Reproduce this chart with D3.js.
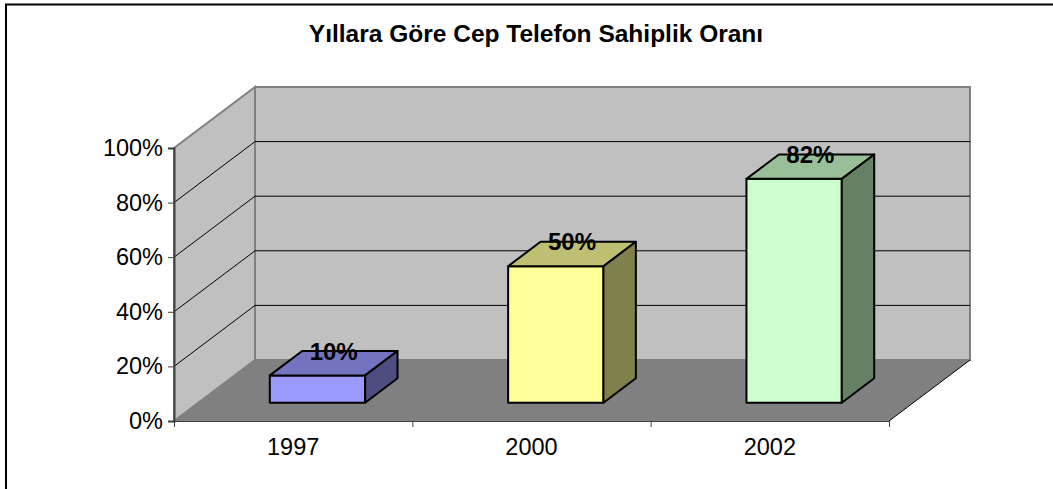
<!DOCTYPE html>
<html>
  <head>
    <meta charset="utf-8">
    <style>
      body {
        margin: 0;
        background: #fff;
        font-family: Arial, 'Liberation Sans', Helvetica, sans-serif;
      }
      .axis text {
        font-size: 23.5px;
        fill: #000;
        font-family: Arial, 'Liberation Sans', sans-serif;
      }
      .axis path, .axis line {
        stroke: #404040;
      }
      .title {
        font-size: 24.5px;
        font-weight: bold;
        text-anchor: middle;
      }
      .bar-label {
        font-size: 24px;
        font-weight: bold;
        text-anchor: middle;
      }
    </style>
  </head>
  <body>
    <script src="https://d3js.org/d3.v7.min.js"></script>
    <script>
      const years = ['1997', '2000', '2002'];
      const values = [0.10, 0.50, 0.82];
      const yTicks = [0, 0.2, 0.4, 0.6, 0.8, 1];
      const gridValues = [0.2, 0.4, 0.6, 0.8];
      const title = 'Yıllara Göre Cep Telefon Sahiplik Oranı';

      // front, top, side shades per bar
      const colors = [
        ['#9999FF', '#7373BF', '#4D4D80'],
        ['#FFFF99', '#BFBF73', '#80804D'],
        ['#CCFFCC', '#99BF99', '#668066']
      ];

      const width = 1053;
      const height = 489;
      const plotLeft = 174, plotRight = 889;
      const plotBase = 421, plotTop = 148;
      const depth = { x: 81, y: -61 };
      const barFront = 0.3, barBack = 0.7;

      const svg = d3.select('body').append('svg')
        .attr('width', width)
        .attr('height', height);

      // outer frame (only top & left visible)
      svg.append('rect')
        .attr('x', 6).attr('y', 4.5)
        .attr('width', width + 20).attr('height', height + 20)
        .attr('fill', 'none')
        .attr('stroke', '#000')
        .attr('stroke-width', 2);

      svg.append('text')
        .attr('class', 'title')
        .attr('x', 536)
        .attr('y', 42)
        .text(title);

      const y = d3.scaleLinear().domain([0, 1]).range([plotBase, plotTop]);
      const x = d3.scaleBand().domain(years).range([plotLeft, plotRight]).paddingInner(0).paddingOuter(0);
      const xEdge = d3.scaleLinear().domain([0, years.length]).range([plotLeft, plotRight]);

      const pt = (px, py, f) => [px + depth.x * f, py + depth.y * f];
      const line = d3.line();

      // back wall
      svg.append('rect')
        .attr('x', plotLeft + depth.x)
        .attr('y', y(1) + depth.y)
        .attr('width', plotRight - plotLeft)
        .attr('height', y(0) - y(1))
        .attr('fill', '#C0C0C0')
        .attr('stroke', '#808080')
        .attr('stroke-width', 2);

      // side wall
      svg.append('path')
        .attr('d', line([[plotLeft, y(1)], pt(plotLeft, y(1), 1), pt(plotLeft, y(0), 1), [plotLeft, y(0)]]) + 'Z')
        .attr('fill', '#C0C0C0')
        .attr('stroke', '#808080')
        .attr('stroke-width', 2);

      // gridlines
      const grid = svg.append('g').attr('stroke', '#000').attr('stroke-width', 1);
      grid.selectAll('.gb')
        .data(gridValues)
        .join('line')
        .attr('class', 'gb')
        .attr('x1', plotLeft + depth.x).attr('x2', plotRight + depth.x)
        .attr('y1', d => y(d) + depth.y).attr('y2', d => y(d) + depth.y);
      grid.selectAll('.gs')
        .data(gridValues)
        .join('path')
        .attr('class', 'gs')
        .attr('d', d => line([[plotLeft, y(d)], pt(plotLeft, y(d), 1)]));

      // floor
      svg.append('path')
        .attr('d', line([[plotLeft, y(0)], [plotRight, y(0)], pt(plotRight, y(0), 1), pt(plotLeft, y(0), 1)]) + 'Z')
        .attr('fill', '#808080');
      svg.append('path')
        .attr('d', line([[plotRight, y(0)], pt(plotRight, y(0), 1)]))
        .attr('stroke', '#000')
        .attr('stroke-width', 1);

      // bars
      const bw = x.bandwidth() * 0.4;
      const bars = svg.append('g')
        .selectAll('g')
        .data(years.map((d, i) => ({ year: d, value: values[i], c: colors[i] })))
        .join('g')
        .attr('stroke', '#000')
        .attr('stroke-width', 2)
        .attr('stroke-linejoin', 'round');

      bars.each(function(d) {
        const g = d3.select(this);
        const x0 = x(d.year) + x.bandwidth() / 2 - bw / 2;
        const x1 = x0 + bw;
        const yb = y(0), yt = y(d.value);
        const fl = pt(x0, yb, barFront), fr = pt(x1, yb, barFront);
        const tl = pt(x0, yt, barFront), tr = pt(x1, yt, barFront);
        const btl = pt(x0, yt, barBack), btr = pt(x1, yt, barBack), bbr = pt(x1, yb, barBack);
        g.append('path').attr('d', line([fl, fr, tr, tl]) + 'Z').attr('fill', d.c[0]);
        g.append('path').attr('d', line([tl, tr, btr, btl]) + 'Z').attr('fill', d.c[1]);
        g.append('path').attr('d', line([fr, bbr, btr, tr]) + 'Z').attr('fill', d.c[2]);
      });

      // data labels
      svg.append('g')
        .selectAll('text')
        .data(years.map((d, i) => ({ year: d, value: values[i] })))
        .join('text')
        .attr('class', 'bar-label')
        .attr('x', d => x(d.year) + x.bandwidth() / 2 + depth.x * (barFront + barBack) / 2)
        .attr('y', d => y(d.value) + depth.y * barBack + 8.5)
        .text(d => d3.format('.0%')(d.value));

      // axes
      svg.append('g')
        .attr('class', 'axis')
        .attr('transform', `translate(${plotLeft},0)`)
        .call(d3.axisLeft(y).tickValues(yTicks).tickFormat(d3.format('.0%')).tickSize(6).tickPadding(5))
        .call(g => g.select('.domain').attr('stroke-width', 2));

      svg.append('g')
        .attr('class', 'axis')
        .attr('transform', `translate(0,${plotBase})`)
        .call(d3.axisBottom(xEdge).tickValues(d3.range(years.length + 1)).tickFormat('').tickSizeOuter(0).tickSize(6))
        .call(g => g.select('.domain').attr('stroke', '#000'))
        .call(g => g.selectAll('.tick line').attr('stroke', '#808080'));

      svg.append('g')
        .attr('class', 'axis')
        .attr('transform', `translate(0,${plotBase})`)
        .call(d3.axisBottom(x).tickSize(0).tickPadding(17))
        .call(g => g.select('.domain').remove());
    </script>
  </body>
</html>
